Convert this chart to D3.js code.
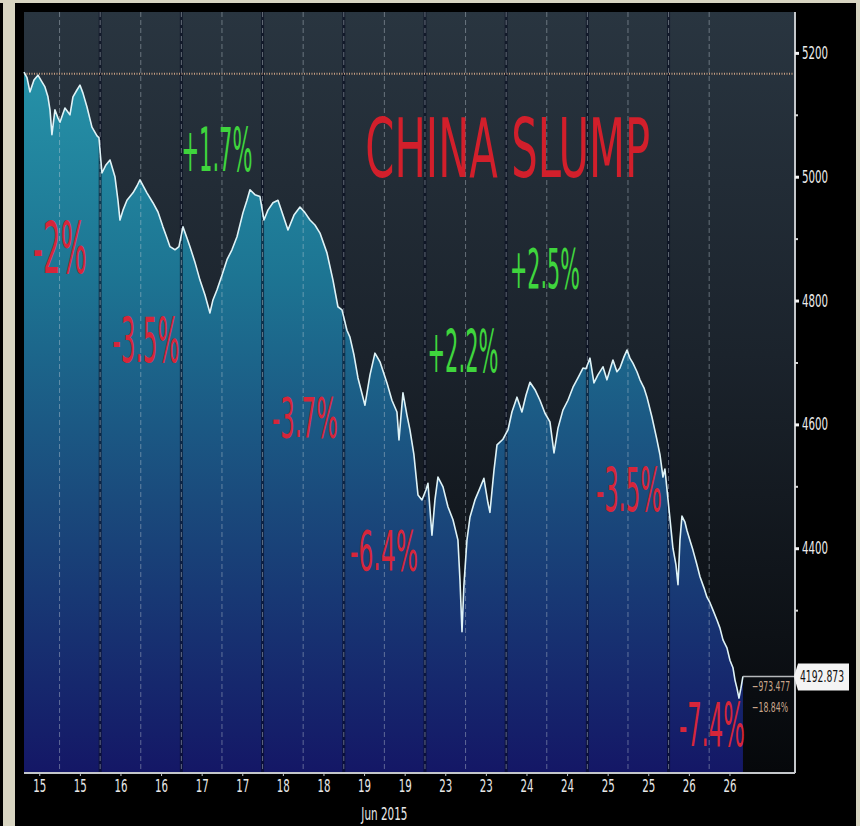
<!DOCTYPE html>
<html>
<head>
<meta charset="utf-8">
<script src="https://cdn.jsdelivr.net/npm/d3@7"></script>
<style>
  html, body { margin: 0; padding: 0; background: #000; }
  svg { display: block; }
</style>
</head>
<body>
<svg id="chart" width="860" height="826"></svg>
<script>
// Trading sessions shown on the time axis
const tradingDays = ["15", "16", "17", "18", "19", "23", "24", "25", "26"];
const monthLabel = "Jun 2015";

// Intraday path: session position (days since the Jun 15 open) and index level
const sessionTime = [
  0.062, 0.099, 0.135, 0.185, 0.234, 0.283, 0.320, 0.357, 0.382, 0.406, 0.443, 0.480, 0.505,
  0.566, 0.628, 0.665, 0.714, 0.751, 0.788, 0.837, 0.899, 0.961, 0.985,
  1.022, 1.071, 1.121, 1.182, 1.219, 1.244, 1.281, 1.330, 1.404, 1.453, 1.490, 1.576, 1.650,
  1.712, 1.773, 1.823, 1.860, 1.921, 1.970,
  2.020, 2.069, 2.106, 2.167, 2.229, 2.291, 2.352, 2.389, 2.438, 2.500, 2.562, 2.623, 2.685,
  2.759, 2.808, 2.845, 2.906, 2.968,
  3.017, 3.066, 3.128, 3.190, 3.251, 3.313, 3.387, 3.461, 3.522, 3.584, 3.645, 3.707, 3.793,
  3.867, 3.928, 3.978,
  4.039, 4.076, 4.126, 4.175, 4.261, 4.323, 4.384, 4.446, 4.532, 4.593, 4.655, 4.680, 4.729,
  4.778, 4.815, 4.864, 4.914, 4.963,
  5.012, 5.037, 5.086, 5.123, 5.160, 5.222, 5.283, 5.345, 5.406, 5.431, 5.456, 5.480, 5.517,
  5.554, 5.616, 5.677, 5.726, 5.776, 5.800, 5.850, 5.887, 5.960,
  6.022, 6.071, 6.133, 6.194, 6.244, 6.293, 6.355, 6.416, 6.478, 6.539, 6.589, 6.638, 6.699,
  6.761, 6.823, 6.884, 6.946, 6.983,
  7.032, 7.081, 7.130, 7.192, 7.241, 7.315, 7.364, 7.401, 7.451, 7.488, 7.524, 7.561, 7.611,
  7.648, 7.697, 7.734, 7.795, 7.857, 7.894, 7.931, 7.955,
  8.054, 8.091, 8.116, 8.140, 8.165, 8.202, 8.226, 8.263, 8.300, 8.350, 8.387, 8.436, 8.473,
  8.510, 8.547, 8.596, 8.633, 8.670, 8.719, 8.756, 8.793, 8.818, 8.842, 8.867, 8.891, 8.916
];
const indexLevel = [
  5169, 5160, 5137, 5156, 5164, 5153, 5145, 5129, 5108, 5068, 5108, 5095, 5088,
  5111, 5100, 5129, 5140, 5148, 5135, 5113, 5080, 5066, 5063,
  5006, 5019, 5027, 5000, 4962, 4930, 4946, 4962, 4974, 4985, 4995, 4974, 4958,
  4943, 4919, 4901, 4887, 4882, 4887,
  4919, 4901, 4887, 4862, 4833, 4809, 4780, 4801, 4817, 4841, 4866, 4882, 4903,
  4942, 4962, 4979, 4971, 4968,
  4930, 4946, 4958, 4962, 4938, 4914, 4938, 4951, 4942, 4930, 4922, 4909, 4877,
  4833, 4790, 4785,
  4752, 4741, 4712, 4675, 4631, 4680, 4715, 4701, 4667, 4639, 4620, 4575, 4651,
  4615, 4591, 4551, 4486, 4478,
  4494, 4505, 4421, 4478, 4515, 4499, 4467, 4446, 4413, 4349, 4265, 4341, 4413,
  4450, 4478, 4497, 4513, 4473, 4458, 4526, 4567, 4576,
  4591, 4620, 4644, 4620, 4647, 4668, 4656, 4639, 4618, 4604, 4554, 4594, 4623,
  4639, 4660, 4675, 4691, 4690,
  4707, 4667, 4680, 4693, 4672, 4704, 4685, 4691, 4709, 4720, 4707, 4699, 4685,
  4672, 4659, 4644, 4612, 4575, 4551, 4515, 4528,
  4400, 4373, 4341, 4413, 4452, 4442, 4429, 4413, 4397, 4373, 4354, 4336, 4321,
  4312, 4300, 4284, 4271, 4252, 4239, 4219, 4207, 4187, 4174, 4158, 4174, 4192.873
];

// Reference level (Jun 12 close) and the right-hand axis ticks
const referenceLevel = 5166.35;
const yMajorTicks = [4400, 4600, 4800, 5000, 5200];
const yMinorTicks = [4300, 4500, 4700, 4900, 5100];

// Daily moves written over each session
const chartTitle = "CHINA SLUMP";
const dailyChange = ["-2%", "-3.5%", "+1.7%", "-3.7%", "-6.4%", "+2.2%", "+2.5%", "-3.5%", "-7.4%"];

// Where each daily label sits (session position of its centre, level of its baseline)
const labelTime  = [0.505, 1.564, 2.438, 3.522, 4.495, 5.468, 6.478, 7.512, 8.534];
const labelLevel = [4845, 4701, 5009, 4580, 4365, 4685, 4820, 4460, 4080];
const labelWidth = [54, 67, 71, 66, 68, 71, 70, 66, 66];
const labelSize  = [72, 62, 60, 56, 56, 58, 56, 60, 60];

const W = 860, H = 826;
const plot = { left: 24, right: 795, top: 12, bottom: 773 };
const condensed = "'Liberation Sans Narrow', 'DejaVu Sans Condensed', 'Liberation Sans', Arial, sans-serif";

const svg = d3.select("#chart");
const defs = svg.append("defs");

const x = d3.scaleLinear().domain([0.062, 9.557]).range([plot.left, plot.right]);
const y = d3.scaleLinear().domain([4037, 5266]).range([plot.bottom, plot.top]);

// ---- frame ----
svg.append("rect").attr("width", W).attr("height", H).attr("fill", "#000");
svg.append("rect").attr("x", 0).attr("y", 0).attr("width", W).attr("height", 3).attr("fill", "#d8d5c2");
svg.append("rect").attr("x", 3).attr("y", 0).attr("width", 12).attr("height", H).attr("fill", "#d8d5c2");
svg.append("rect").attr("x", 856).attr("y", 0).attr("width", 4).attr("height", H).attr("fill", "#d8d5c2");

// ---- plot background ----
const bg = defs.append("linearGradient").attr("id", "bgGrad")
  .attr("gradientUnits", "userSpaceOnUse")
  .attr("x1", 0).attr("x2", 0).attr("y1", plot.top).attr("y2", plot.bottom);
bg.append("stop").attr("offset", 0).attr("stop-color", "#293540");
bg.append("stop").attr("offset", 0.45).attr("stop-color", "#1b232c");
bg.append("stop").attr("offset", 1).attr("stop-color", "#06080b");

svg.append("rect")
  .attr("x", plot.left).attr("y", plot.top)
  .attr("width", plot.right - plot.left).attr("height", plot.bottom - plot.top)
  .attr("fill", "url(#bgGrad)");

// ---- area fill under the index ----
const fillGrad = defs.append("linearGradient").attr("id", "fillGrad")
  .attr("gradientUnits", "userSpaceOnUse")
  .attr("x1", 0).attr("x2", 0).attr("y1", 60).attr("y2", plot.bottom);
fillGrad.append("stop").attr("offset", 0).attr("stop-color", "#2693a9");
fillGrad.append("stop").attr("offset", 0.3).attr("stop-color", "#1d7593");
fillGrad.append("stop").attr("offset", 0.62).attr("stop-color", "#1a4a7c");
fillGrad.append("stop").attr("offset", 1).attr("stop-color", "#141766");

const series = sessionTime.map((t, i) => ({ t, v: indexLevel[i] }));

svg.append("path")
  .datum(series)
  .attr("fill", "url(#fillGrad)")
  .attr("d", d3.area().x(d => x(d.t)).y0(plot.bottom).y1(d => y(d.v)));

// ---- vertical session grid ----
const dayBounds = d3.range(1, tradingDays.length);
const midDays = d3.range(0, tradingDays.length).map(d => d + 0.5);

const grid = svg.append("g");
grid.selectAll("line.dayShade").data(dayBounds).join("line")
  .attr("x1", d => x(d)).attr("x2", d => x(d))
  .attr("y1", plot.top).attr("y2", plot.bottom)
  .attr("stroke", "#050a1e").attr("stroke-opacity", 0.6).attr("stroke-width", 3);
grid.selectAll("line.dayDash").data(dayBounds).join("line")
  .attr("x1", d => x(d)).attr("x2", d => x(d))
  .attr("y1", plot.top).attr("y2", plot.bottom)
  .attr("stroke", "#c9d2da").attr("stroke-opacity", 0.45).attr("stroke-width", 1)
  .attr("stroke-dasharray", "5,3");
grid.selectAll("line.mid").data(midDays).join("line")
  .attr("x1", d => x(d)).attr("x2", d => x(d))
  .attr("y1", plot.top).attr("y2", plot.bottom)
  .attr("stroke", "#c9d2da").attr("stroke-opacity", 0.42).attr("stroke-width", 1)
  .attr("stroke-dasharray", "5,3");

// ---- reference level (previous close) ----
svg.append("line")
  .attr("x1", plot.left).attr("x2", plot.right)
  .attr("y1", y(referenceLevel)).attr("y2", y(referenceLevel))
  .attr("stroke", "#c49c80").attr("stroke-width", 2).attr("stroke-dasharray", "1,1.5");

// ---- index line ----
svg.append("path")
  .datum(series)
  .attr("fill", "none")
  .attr("stroke", "#dff3f7")
  .attr("stroke-width", 1.6)
  .attr("stroke-linejoin", "round")
  .attr("d", d3.line().x(d => x(d.t)).y(d => y(d.v)));

// ---- last price guide ----
const last = series[series.length - 1];
svg.append("line")
  .attr("x1", x(last.t)).attr("x2", plot.right)
  .attr("y1", y(last.v)).attr("y2", y(last.v))
  .attr("stroke", "#b5b8ba").attr("stroke-width", 1.5);

// ---- axes ----
// bottom axis
const xTicks = [];
tradingDays.forEach((d, i) => { xTicks.push({ t: i + 0.25, label: d }); xTicks.push({ t: i + 0.75, label: d }); });

const xAxis = d3.axisBottom(x)
  .tickValues(xTicks.map(d => d.t))
  .tickFormat((d, i) => xTicks[i].label)
  .tickSize(3).tickPadding(4);
const gx = svg.append("g").attr("transform", `translate(0,${plot.bottom})`).call(xAxis);
gx.select(".domain").attr("stroke", "#c4c7ca").attr("stroke-width", 2)
  .attr("d", `M${plot.left},0H${plot.right}`);
gx.selectAll(".tick line").attr("stroke", "#c4c7ca");
gx.selectAll(".tick text")
  .attr("fill", "#e8e8e8")
  .attr("font-family", condensed)
  .attr("font-size", 17)
  .attr("textLength", 13)
  .attr("lengthAdjust", "spacingAndGlyphs");

svg.append("text")
  .attr("x", x(4.5)).attr("y", 820)
  .attr("text-anchor", "middle")
  .attr("fill", "#e8e8e8")
  .attr("font-family", condensed)
  .attr("font-size", 17)
  .attr("textLength", 46)
  .attr("lengthAdjust", "spacingAndGlyphs")
  .text(monthLabel);

// right axis
const yAxis = d3.axisRight(y)
  .tickValues(yMajorTicks)
  .tickFormat(d3.format("d"))
  .tickSize(4).tickPadding(3);
const gy = svg.append("g").attr("transform", `translate(${plot.right},0)`).call(yAxis);
gy.select(".domain").attr("stroke", "#c4c7ca").attr("stroke-width", 2)
  .attr("d", `M0,${plot.top}V${plot.bottom}`);
gy.selectAll(".tick line").attr("stroke", "#f2f2f2").attr("stroke-width", 3);
gy.selectAll(".tick text")
  .attr("fill", "#ececec")
  .attr("font-family", condensed)
  .attr("font-size", 17)
  .attr("textLength", 26)
  .attr("lengthAdjust", "spacingAndGlyphs");

const gyMinor = svg.append("g").attr("transform", `translate(${plot.right},0)`)
  .call(d3.axisRight(y).tickValues(yMinorTicks).tickFormat("").tickSize(3));
gyMinor.select(".domain").remove();
gyMinor.selectAll(".tick line").attr("stroke", "#d8d8d8").attr("stroke-width", 2);

// last price tag
const tagY = y(last.v);
svg.append("path")
  .attr("d", `M${plot.right - 1},${tagY} L${plot.right + 3},${tagY - 13} H${plot.right + 54} V${tagY + 14} H${plot.right + 3} Z`)
  .attr("fill", "#f4f4f4");
svg.append("text")
  .attr("x", plot.right + 5).attr("y", tagY + 6)
  .attr("fill", "#111")
  .attr("font-family", condensed)
  .attr("font-size", 16)
  .attr("textLength", 44)
  .attr("lengthAdjust", "spacingAndGlyphs")
  .text(d3.format(".3f")(last.v));

const netChange = last.v - referenceLevel;
const pctChange = netChange / referenceLevel;
svg.append("text")
  .attr("x", 752).attr("y", tagY + 15)
  .attr("fill", "#c9a68b")
  .attr("font-family", condensed)
  .attr("font-size", 14)
  .attr("textLength", 38)
  .attr("lengthAdjust", "spacingAndGlyphs")
  .text(d3.format(".3f")(netChange));
svg.append("text")
  .attr("x", 752).attr("y", tagY + 36)
  .attr("fill", "#c9a68b")
  .attr("font-family", condensed)
  .attr("font-size", 14)
  .attr("textLength", 36)
  .attr("lengthAdjust", "spacingAndGlyphs")
  .text(d3.format(".2%")(pctChange));

// ---- annotations ----
svg.append("text")
  .attr("x", x(6.02)).attr("y", y(4999))
  .attr("text-anchor", "middle")
  .attr("fill", "#d21f2b")
  .attr("font-family", condensed)
  .attr("font-size", 82)
  .attr("textLength", 285)
  .attr("lengthAdjust", "spacingAndGlyphs")
  .text(chartTitle);

svg.append("g").selectAll("text").data(dailyChange).join("text")
  .attr("x", (d, i) => x(labelTime[i]))
  .attr("y", (d, i) => y(labelLevel[i]))
  .attr("text-anchor", "middle")
  .attr("fill", d => d.startsWith("+") ? "#3fd53d" : "#d6263a")
  .attr("font-family", condensed)
  .attr("font-size", (d, i) => labelSize[i])
  .attr("textLength", (d, i) => labelWidth[i])
  .attr("lengthAdjust", "spacingAndGlyphs")
  .text(d => d);
</script>
</body>
</html>
